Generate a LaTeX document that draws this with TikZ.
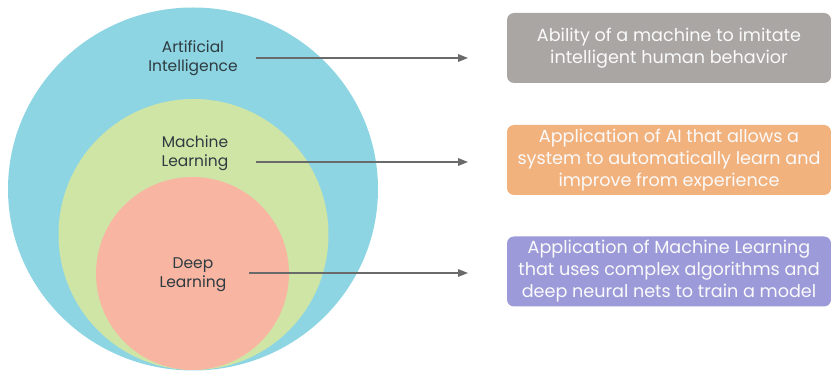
\documentclass[tikz,border=0pt]{standalone}
\usepackage{fontspec}
\setmainfont{Poppins}[Ligatures=NoCommon]
\usetikzlibrary{arrows.meta,shapes.geometric}
\definecolor{aiblue}{HTML}{8DD5E3}
\definecolor{mlgreen}{HTML}{CFE5A6}
\definecolor{dlred}{HTML}{F8B5A2}
\definecolor{boxgray}{HTML}{A9A6A4}
\definecolor{boxorange}{HTML}{F2B27E}
\definecolor{boxpurple}{HTML}{9C9AD9}
\definecolor{labeltext}{HTML}{2E3B40}
\definecolor{arrowgray}{HTML}{6A6A6A}
\begin{document}
\begin{tikzpicture}[x=1pt,y=-1pt,
  ring/.style={ellipse, inner sep=0pt, draw=none},
  circlabel/.style={align=center, text=labeltext, font=\fontsize{15.5}{19}\selectfont, inner sep=0pt},
  descbox/.style={rounded corners=7pt, minimum width=324pt, minimum height=70pt, inner sep=0pt,
    align=center, text=white!96!gray, font=\fontsize{17.6}{22}\selectfont},
  linkarrow/.style={draw=arrowgray, line width=1.4pt, -{Triangle[length=10pt,width=7.5pt]}}
]
\useasboundingbox (0,0) rectangle (831,371);
\clip (0,0) rectangle (831,371);
% nested circles
\node[ring, fill=aiblue, minimum width=370pt, minimum height=363pt] (aiC) at (193,189) {};
\node[ring, fill=mlgreen, minimum width=270pt, minimum height=271pt] (mlC) at (193.5,234.5) {};
\node[ring, fill=dlred, minimum width=193pt, minimum height=193pt] (dlC) at (192.5,273.5) {};
% labels
\node[circlabel] (ai) at (193,58.5) {Artificial\\Intelligence};
\node[circlabel] (ml) at (195,153) {Machine\\Learning};
\node[circlabel] (dl) at (193,275) {Deep\\Learning};
% description boxes
\node[descbox, fill=boxgray] (aiB) at (669,48) {Ability of a machine to imitate\\intelligent human behavior};
\node[descbox, fill=boxorange] (mlB) at (669,160) {Application of AI that allows a\\system to automatically learn and\\improve from experience};
\node[descbox, fill=boxpurple] (dlB) at (669,271.5) {Application of Machine Learning\\that uses complex algorithms and\\deep neural nets to train a model};
% arrow ends
\coordinate (aiS) at (256,58);
\coordinate (mlS) at (256,162);
\coordinate (dlS) at (249,273);
\coordinate (aiE) at (468,58);
\coordinate (mlE) at (468,162);
\coordinate (dlE) at (468,273);
\draw[linkarrow] (aiS) -- (aiE);
\draw[linkarrow] (mlS) -- (mlE);
\draw[linkarrow] (dlS) -- (dlE);
\end{tikzpicture}
\end{document}
